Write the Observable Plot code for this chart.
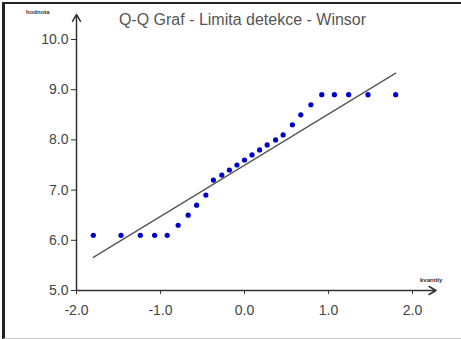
<!DOCTYPE html>
<html>
<head>
<meta charset="utf-8">
<script src="https://cdn.jsdelivr.net/npm/d3@7"></script>
<script src="https://cdn.jsdelivr.net/npm/@observablehq/plot@0.6"></script>
<style>
  html, body { margin: 0; padding: 0; background: #fff; }
  #wrap { position: relative; width: 461px; height: 339px; overflow: hidden; font-family: Arial, "Liberation Sans", sans-serif; }
  #wrap svg { position: absolute; left: 0; top: 0; }
  #border { position: absolute; left: 2px; top: 2px; width: 470px; height: 334px; border-top: 2px solid #222; border-left: 3px solid #222; border-bottom: 1px solid #ccc; pointer-events: none; }
  #title { position: absolute; left: 0; top: 11px; width: 485px; text-align: center; font-size: 16px; color: #555; white-space: nowrap; }
  .axname { position: absolute; font-size: 6px; font-weight: bold; color: #333; white-space: nowrap; }
</style>
</head>
<body>
<div id="wrap">
  <div id="border"></div>
  <div id="title">Q-Q Graf - Limita detekce - Winsor</div>
  <div class="axname" style="left:26px; top:9px;">hodnota</div>
  <div class="axname" style="left:420px; top:277px;">kvantily</div>
</div>
<script>
// Theoretical normal quantiles (x) and ordered sample values (y)
const quantiles = [-1.80, -1.47, -1.24, -1.07, -0.92, -0.79, -0.67, -0.57, -0.46, -0.37, -0.27, -0.18, -0.09, 0.00,
                   0.09, 0.18, 0.27, 0.37, 0.46, 0.57, 0.67, 0.79, 0.92, 1.07, 1.24, 1.47, 1.80];
const values = [6.1, 6.1, 6.1, 6.1, 6.1, 6.3, 6.5, 6.7, 6.9, 7.2, 7.3, 7.4, 7.5, 7.6,
                7.7, 7.8, 7.9, 8.0, 8.1, 8.3, 8.5, 8.7, 8.9, 8.9, 8.9, 8.9, 8.9];
// Fitted reference line endpoints
const fitX = [-1.80, 1.80];
const fitY = [5.66, 9.33];
// Axis ticks and axis extents
const xTicks = [-2, -1, 0, 1, 2];
const yTicks = [5, 6, 7, 8, 9, 10];
const xAxisRange = [-2, 2.28];
const yAxisRange = [5, 10.5];

const points = quantiles.map((q, i) => ({q, v: values[i]}));
const fit = fitX.map((x, i) => ({x, y: fitY[i]}));
const fmt = d => d.toFixed(1);

const chart = Plot.plot({
  width: 461,
  height: 339,
  marginLeft: 76,
  marginRight: 49,
  marginTop: 39,
  marginBottom: 49,
  style: {fontFamily: "Arial, 'Liberation Sans', sans-serif", background: "transparent", color: "#444"},
  x: {domain: [-2, 2]},
  y: {domain: [5, 10]},
  marks: [
    Plot.axisY({ticks: yTicks, tickFormat: fmt, tickSize: 5, tickPadding: 3, fontSize: 14, fill: "#444", stroke: "#333", label: null}),
    Plot.axisX({ticks: xTicks, tickFormat: fmt, tickSize: 4, tickPadding: 11, fontSize: 14, fill: "#444", stroke: "#333", label: null}),
    Plot.arrow([0], {x1: xAxisRange[0], y1: yAxisRange[0], x2: xAxisRange[0], y2: yAxisRange[1], stroke: "#333", strokeWidth: 1.5, headLength: 8}),
    Plot.arrow([0], {x1: xAxisRange[0], y1: yAxisRange[0], x2: xAxisRange[1], y2: yAxisRange[0], stroke: "#333", strokeWidth: 1.5, headLength: 8}),
    Plot.line(fit, {x: "x", y: "y", stroke: "#555", strokeWidth: 1.3}),
    Plot.dot(points, {x: "q", y: "v", r: 2.6, fill: "#0000cc", stroke: "none"})
  ]
});
document.getElementById("wrap").insertBefore(chart, document.getElementById("border"));
</script>
</body>
</html>
